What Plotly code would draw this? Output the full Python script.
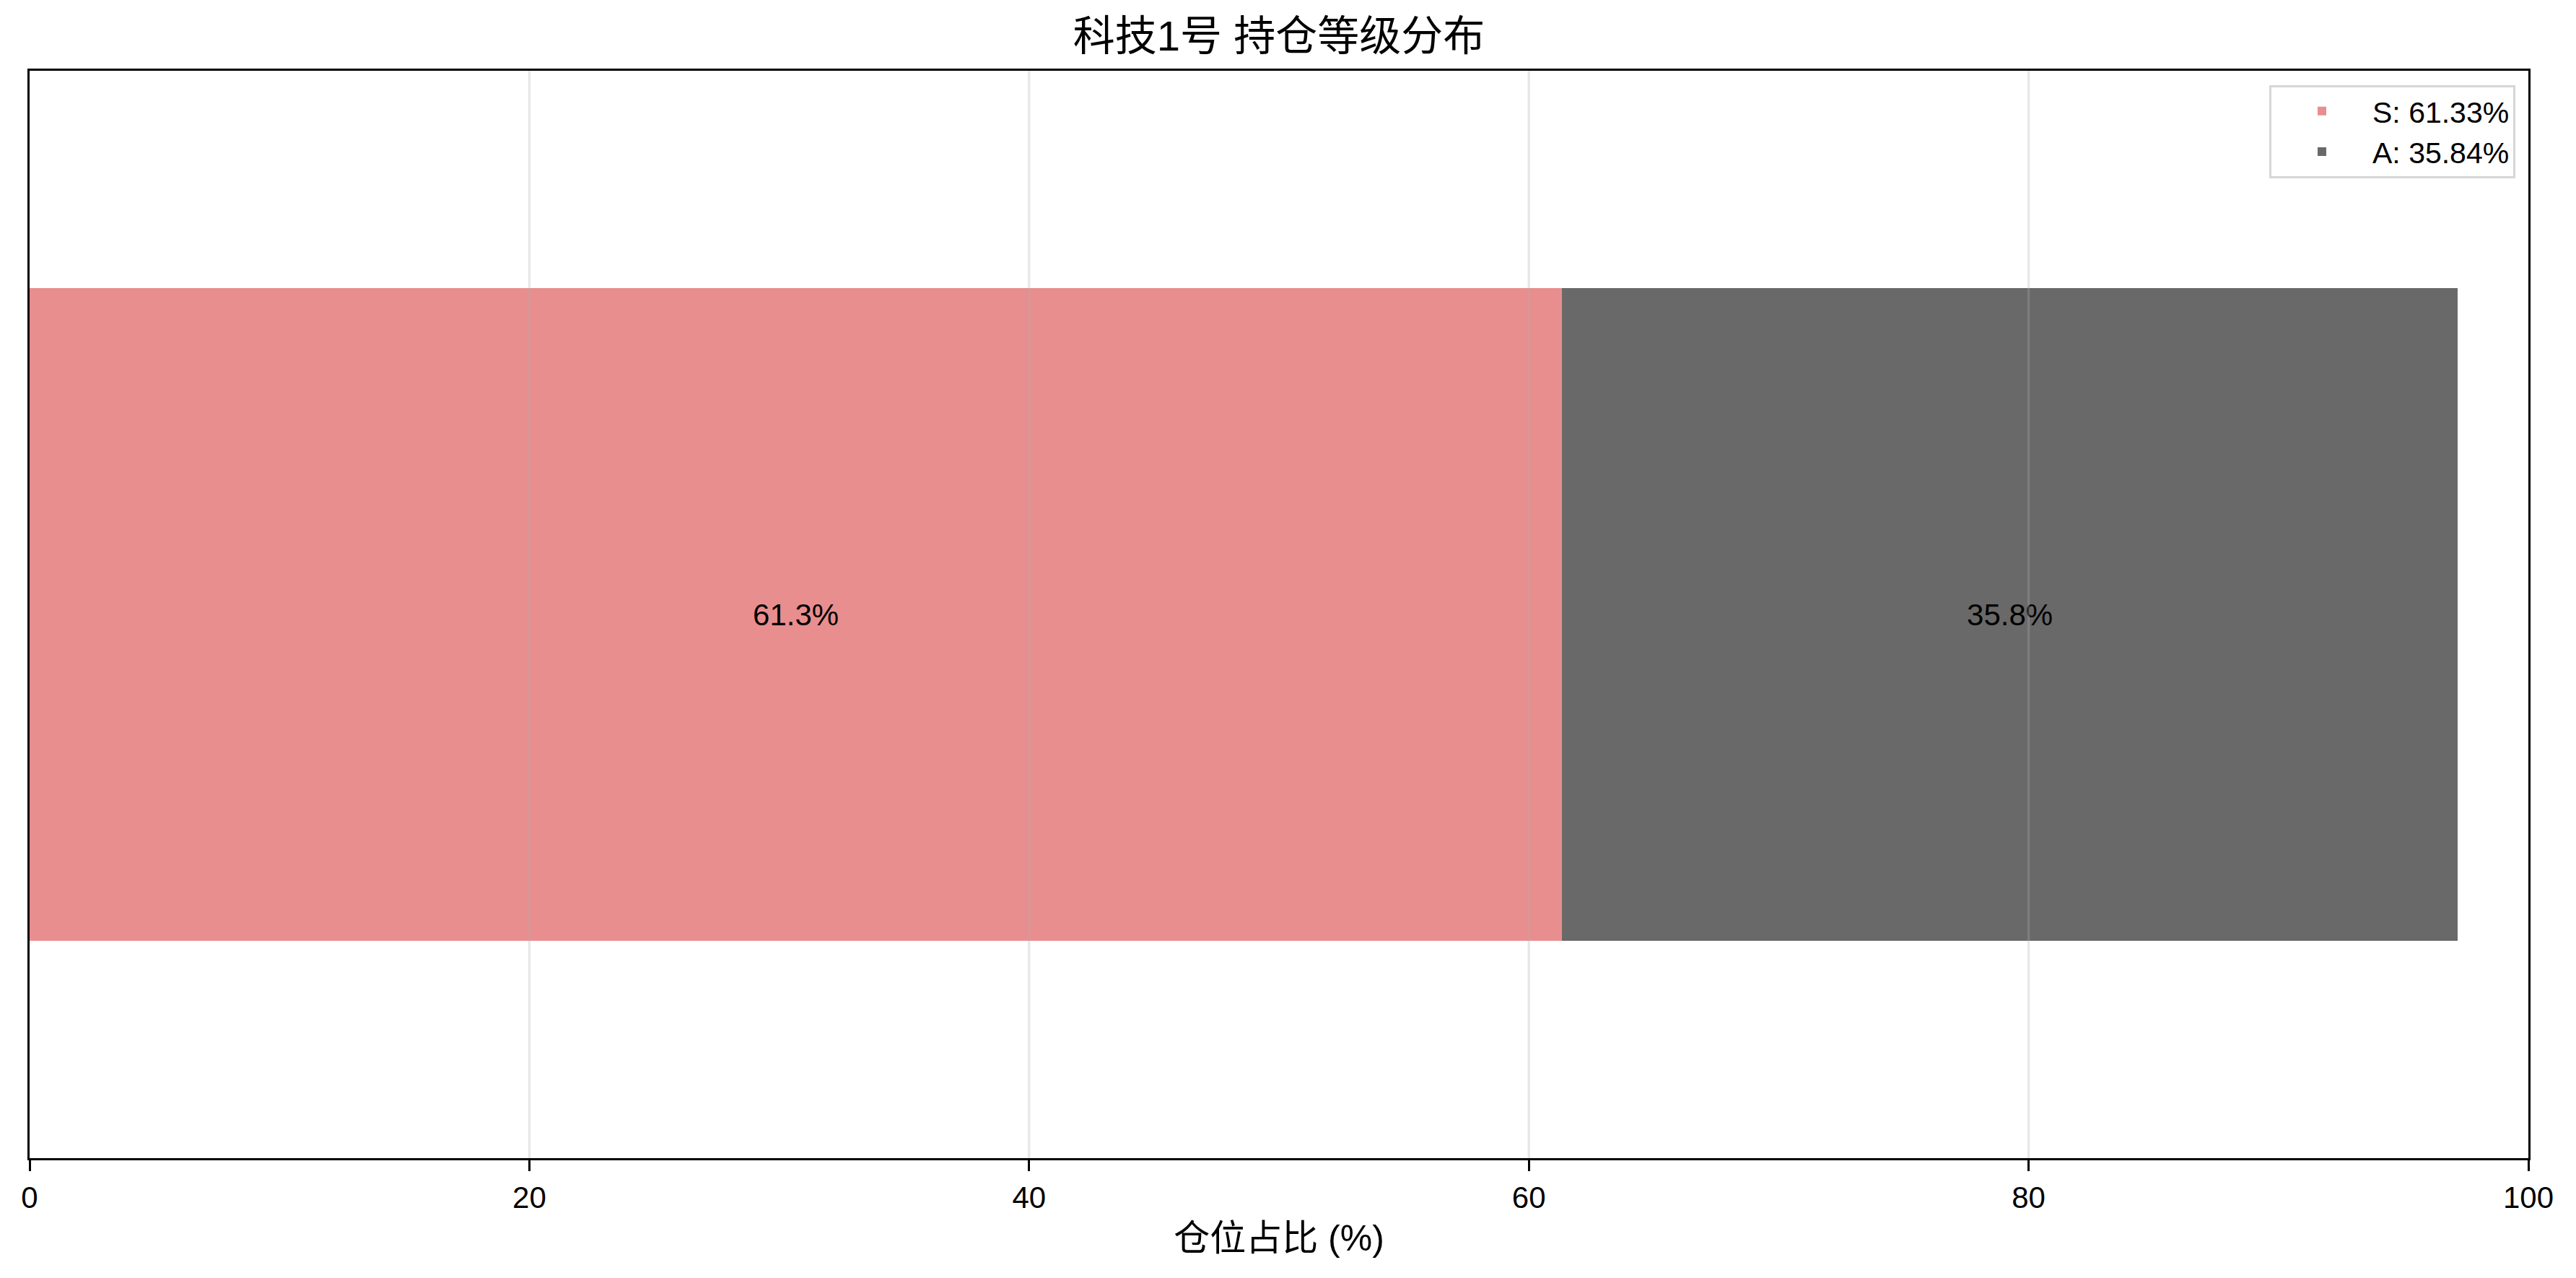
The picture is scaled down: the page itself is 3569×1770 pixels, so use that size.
import plotly.graph_objects as go

# ---- data ----
grades = ["S", "A"]
weights = [61.33, 35.84]
bar_colors = ["#E88E8E", "#696969"]
tick_vals = [0, 20, 40, 60, 80, 100]
title_text = "科技1号 持仓等级分布"
x_label = "仓位占比 (%)"

W, H = 3569, 1770
FONT = "Liberation Sans, Arial, Noto Sans CJK SC, sans-serif"

fig = go.Figure()
for g, w, c in zip(grades, weights, bar_colors):
    fig.add_trace(go.Bar(
        y=[0], x=[w], orientation="h", width=0.6,
        name=f"{g}: {w:.2f}%",
        marker=dict(color=c, line=dict(width=0)),
        text=[f"{w:.1f}%"], textposition="inside", insidetextanchor="middle",
        textangle=0, constraintext="none",
        textfont=dict(color="black", size=42, family=FONT),
        hoverinfo="skip",
    ))

# grid lines drawn above bars (matplotlib default z-order)
for t in tick_vals[1:-1]:
    fig.add_shape(type="line", xref="x", yref="paper", x0=t, x1=t, y0=0, y1=1,
                  layer="above", line=dict(color="rgba(176,176,176,0.3)", width=3.3))

fig.update_layout(
    width=W, height=H,
    barmode="stack",
    paper_bgcolor="white", plot_bgcolor="white",
    margin=dict(l=41, r=66, t=98, b=166, pad=0),
    font=dict(family=FONT, size=42, color="black"),
    title=dict(text=title_text, x=0.5, xref="paper", xanchor="center",
               y=1 - 50 / H, yref="container", yanchor="middle",
               font=dict(size=58, family=FONT, color="black")),
    showlegend=True,
    legend=dict(x=0.9948, y=0.987, xanchor="right", yanchor="top",
                bgcolor="white", bordercolor="#d6d6d6", borderwidth=3,
                font=dict(size=41, family=FONT), traceorder="normal",
                itemwidth=130, tracegroupgap=0),
    xaxis=dict(range=[0, 100], tickvals=tick_vals, ticks="outside", ticklen=15,
               tickwidth=3.3, tickcolor="black", showgrid=False, zeroline=False,
               showline=True, linecolor="black", linewidth=3.3, mirror=True,
               tickfont=dict(size=42, family=FONT),
               title=dict(text=x_label, font=dict(size=50, family=FONT), standoff=17)),
    yaxis=dict(range=[-0.5, 0.5], showticklabels=False, ticks="", showgrid=False,
               zeroline=False, showline=True, linecolor="black", linewidth=3.3,
               mirror=True),
)

fig.write_html("out.html", config={"displayModeBar": False},
               post_script="document.body.style.margin='0';")
